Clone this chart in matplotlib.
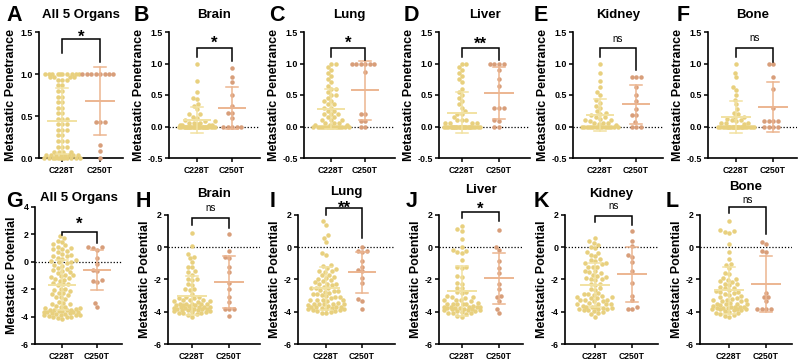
import numpy as np
import matplotlib
matplotlib.use("Agg")
import matplotlib.pyplot as plt
from matplotlib import transforms

plt.rcParams['font.family'] = ['Liberation Sans', 'DejaVu Sans']

W, H = 800, 364

groups = ["C228T", "C250T"]
organs = ["All 5 Organs", "Brain", "Lung", "Liver", "Kidney", "Bone"]
letters_top = ["A", "B", "C", "D", "E", "F"]
letters_bot = ["G", "H", "I", "J", "K", "L"]
sig_top = ["*", "*", "*", "**", "ns", "ns"]
sig_bot = ["*", "ns", "**", "*", "ns", "ns"]

# ==== Metastatic penetrance (top row) ====
pen_all_c228t = [1.0, 1.0, 1.0, 1.0, 1.0, 1.0, 1.0, 1.0, 1.0, 1.0, 0.97, 0.97, 0.97, 0.97,
                 0.93, 0.93, 0.93, 0.87, 0.87, 0.8, 0.8, 0.73, 0.73, 0.67, 0.67, 0.6, 0.6,
                 0.53, 0.53, 0.47, 0.47, 0.47, 0.4, 0.4, 0.4, 0.33, 0.33, 0.33, 0.27, 0.27,
                 0.2, 0.2, 0.2, 0.13, 0.13, 0.13, 0.07, 0.07, 0.07, 0.07,
                 0.03, 0.03, 0.03, 0.03, 0.03, 0.03, 0.03, 0.03,
                 0.0, 0.0, 0.0, 0.0, 0.0, 0.0, 0.0, 0.0, 0.0, 0.0, 0.0, 0.0]
pen_all_c250t = [1.0, 1.0, 1.0, 1.0, 1.0, 1.0, 1.0, 1.0, 0.43, 0.43, 0.43, 0.15, 0.08, 0.0]

pen_brain_c228t = [1.0, 0.72, 0.55, 0.45, 0.43, 0.35, 0.33, 0.28, 0.2, 0.2, 0.15, 0.14, 0.1,
                   0.08, 0.08, 0.06, 0.05, 0.05, 0.04, 0.03, 0.03, 0.02, 0.02,
                   0.0, 0.0, 0.0, 0.0, 0.0, 0.0, 0.0, 0.0, 0.0, 0.0, 0.0, 0.0, 0.0, 0.0,
                   0.0, 0.0, 0.0, 0.0, 0.0, 0.0, 0.0, 0.0, 0.0, 0.0, 0.0, 0.0, 0.0, 0.0]
pen_brain_c250t = [0.93, 0.78, 0.7, 0.5, 0.33, 0.22, 0.22, 0.13, 0.0, 0.0, 0.0, 0.0, 0.0]

pen_lung_c228t = [1.0, 1.0, 0.95, 0.9, 0.85, 0.8, 0.75, 0.7, 0.65, 0.6, 0.6, 0.55, 0.5, 0.5,
                  0.45, 0.4, 0.4, 0.35, 0.35, 0.3, 0.3, 0.25, 0.25, 0.2, 0.2, 0.2, 0.15, 0.15,
                  0.1, 0.1, 0.1, 0.05, 0.05, 0.05, 0.02, 0.02, 0.02,
                  0.0, 0.0, 0.0, 0.0, 0.0, 0.0, 0.0, 0.0, 0.0, 0.0, 0.0, 0.0, 0.0, 0.0, 0.0]
pen_lung_c250t = [1.0, 1.0, 1.0, 1.0, 1.0, 1.0, 0.87, 0.2, 0.2, 0.08, 0.08, 0.0, 0.0]

pen_liver_c228t = [1.0, 1.0, 0.95, 0.9, 0.85, 0.8, 0.75, 0.7, 0.6, 0.55, 0.5, 0.45, 0.4, 0.35,
                   0.3, 0.25, 0.2, 0.2, 0.15, 0.1, 0.1, 0.1, 0.05, 0.05, 0.05, 0.05,
                   0.0, 0.0, 0.0, 0.0, 0.0, 0.0, 0.0, 0.0, 0.0, 0.0, 0.0, 0.0, 0.0,
                   0.0, 0.0, 0.0, 0.0, 0.0, 0.0, 0.0, 0.0, 0.0, 0.0, 0.0, 0.0, 0.0]
pen_liver_c250t = [1.0, 1.0, 1.0, 1.0, 0.9, 0.75, 0.65, 0.3, 0.3, 0.3, 0.1, 0.08, 0.0, 0.0]

pen_kidney_c228t = [1.0, 0.85, 0.72, 0.63, 0.55, 0.5, 0.42, 0.38, 0.33, 0.3, 0.25, 0.22, 0.2,
                    0.18, 0.15, 0.15, 0.12, 0.1, 0.1, 0.08, 0.05, 0.05, 0.05, 0.04, 0.03,
                    0.0, 0.0, 0.0, 0.0, 0.0, 0.0, 0.0, 0.0, 0.0, 0.0, 0.0, 0.0, 0.0, 0.0, 0.0, 0.0]
pen_kidney_c250t = [0.78, 0.78, 0.78, 0.62, 0.5, 0.4, 0.28, 0.18, 0.18, 0.07, 0.0, 0.0, 0.0]

pen_bone_c228t = [1.0, 0.85, 0.78, 0.63, 0.58, 0.5, 0.42, 0.35, 0.28, 0.22, 0.2, 0.15, 0.15,
                  0.12, 0.1, 0.1, 0.08, 0.05, 0.05, 0.05, 0.04,
                  0.0, 0.0, 0.0, 0.0, 0.0, 0.0, 0.0, 0.0, 0.0, 0.0, 0.0, 0.0,
                  0.0, 0.0, 0.0, 0.0, 0.0, 0.0, 0.0, 0.0, 0.0, 0.0, 0.0, 0.0]
pen_bone_c250t = [1.0, 1.0, 0.78, 0.6, 0.3, 0.08, 0.08, 0.08, 0.08, 0.0, 0.0, 0.0, 0.0]

# ==== Metastatic potential (bottom row) ====
pot_all_c228t = [1.9, 1.75, 1.5, 1.45, 1.3, 1.2, 1.1, 1.0, 0.95, 0.9, 0.8, 0.7, 0.6, 0.5, 0.45,
                 0.4, 0.3, 0.2, 0.1, 0.05, 0.0, -0.05, -0.1, -0.2, -0.3, -0.35, -0.45, -0.5,
                 -0.6, -0.65, -0.75, -0.8, -0.95, -1.0, -1.05, -1.1, -1.2, -1.25, -1.3, -1.4,
                 -1.55, -1.6, -1.65, -1.7, -1.95, -2.0, -2.05, -2.1, -2.25, -2.3, -2.35, -2.4,
                 -2.55, -2.6, -2.7, -2.95, -3.0, -3.05, -3.1, -3.25, -3.3, -3.3, -3.35, -3.4,
                 -3.45, -3.5, -3.5, -3.5, -3.55, -3.6, -3.6, -3.65, -3.7, -3.7, -3.7, -3.75,
                 -3.75, -3.8, -3.8, -3.85, -3.85, -3.9, -3.9, -3.95, -4.0, -4.0, -4.05, -4.1, -4.15]
pot_all_c250t = [1.1, 1.05, 1.0, 0.85, 0.3, -0.15, -0.6, -0.7, -1.3, -1.4, -1.5, -3.0, -3.3]

pot_brain_c228t = [0.9, 0.05, -0.4, -0.6, -0.65, -0.9, -1.2, -1.25, -1.5, -1.55, -1.7, -2.0,
                   -2.0, -2.05, -2.3, -2.35, -2.6, -2.6, -2.65, -2.9, -3.1, -3.1, -3.15, -3.15,
                   -3.3, -3.3, -3.3, -3.35, -3.35, -3.4, -3.5, -3.5, -3.5, -3.55, -3.55, -3.6,
                   -3.6, -3.6, -3.65, -3.7, -3.7, -3.7, -3.7, -3.75, -3.75, -3.75, -3.8, -3.8,
                   -3.8, -3.85, -3.9, -3.9, -3.9, -3.95, -3.95, -4.0, -4.0, -4.05, -4.1, -4.1,
                   -4.15, -4.2, -4.3]
pot_brain_c250t = [0.8, -0.25, -0.6, -0.65, -1.2, -1.55, -2.2, -2.6, -3.1, -3.4, -3.8, -3.8,
                   -3.85, -4.25]

pot_lung_c228t = [1.6, 1.4, 0.75, 0.6, 0.35, -0.35, -0.5, -1.1, -1.15, -1.3, -1.35, -1.45,
                  -1.5, -1.55, -1.7, -1.75, -1.85, -1.9, -1.95, -2.05, -2.1, -2.15, -2.25, -2.3,
                  -2.3, -2.35, -2.45, -2.5, -2.5, -2.55, -2.65, -2.7, -2.7, -2.75, -2.85, -2.9,
                  -2.9, -2.95, -3.05, -3.1, -3.1, -3.15, -3.25, -3.3, -3.3, -3.3, -3.35, -3.45,
                  -3.5, -3.5, -3.5, -3.55, -3.55, -3.6, -3.65, -3.7, -3.7, -3.7, -3.7, -3.75,
                  -3.75, -3.8, -3.8, -3.85, -3.9, -3.9, -3.95, -3.95, -4.0, -4.05, -4.1]
pot_lung_c250t = [0.0, -0.22, -0.25, -0.3, -0.85, -1.2, -1.4, -1.5, -1.9, -2.2, -3.2, -3.35, -3.8]

pot_liver_c228t = [1.3, 1.15, 1.0, 0.5, 0.0, -0.2, -0.25, -0.3, -0.35, -0.8, -1.2, -1.25, -1.3,
                   -1.8, -1.85, -2.2, -2.25, -2.5, -2.55, -2.8, -2.8, -2.85, -3.05, -3.1, -3.1,
                   -3.15, -3.25, -3.3, -3.3, -3.35, -3.45, -3.5, -3.5, -3.5, -3.55, -3.55, -3.65,
                   -3.7, -3.7, -3.7, -3.7, -3.7, -3.75, -3.75, -3.75, -3.8, -3.85, -3.85, -3.9,
                   -3.9, -3.9, -3.95, -3.95, -4.0, -4.05, -4.1, -4.1, -4.15, -4.25, -4.3]
pot_liver_c250t = [1.05, 0.0, -0.2, -0.85, -1.3, -1.6, -2.3, -2.6, -3.05, -3.1, -3.35, -3.8, -4.05]

pot_kidney_c228t = [0.6, 0.4, 0.25, 0.15, 0.0, -0.05, -0.3, -0.35, -0.5, -0.55, -0.75, -0.8,
                    -0.85, -1.0, -1.0, -1.05, -1.2, -1.2, -1.25, -1.45, -1.5, -1.55, -1.6, -1.75,
                    -1.8, -1.85, -1.9, -2.0, -2.0, -2.05, -2.25, -2.3, -2.35, -2.55, -2.6, -2.65,
                    -2.85, -2.9, -2.9, -2.95, -3.05, -3.1, -3.1, -3.15, -3.15, -3.25, -3.3, -3.3,
                    -3.35, -3.35, -3.45, -3.5, -3.5, -3.55, -3.55, -3.65, -3.7, -3.7, -3.7, -3.75,
                    -3.75, -3.8, -3.8, -3.85, -3.9, -3.9, -3.95, -4.0, -4.1, -4.15, -4.3]
pot_kidney_c250t = [1.0, 0.4, 0.1, -0.5, -0.6, -0.9, -1.5, -2.2, -3.0, -3.3, -3.7, -3.8, -3.85]

pot_bone_c228t = [1.6, 1.1, 1.0, 0.95, 0.9, 0.2, -0.3, -0.7, -1.05, -1.1, -1.3, -1.6, -1.65,
                  -1.9, -1.95, -2.05, -2.1, -2.15, -2.25, -2.3, -2.35, -2.45, -2.5, -2.55, -2.65,
                  -2.7, -2.75, -2.8, -2.85, -2.9, -2.95, -3.05, -3.1, -3.15, -3.2, -3.25, -3.3,
                  -3.3, -3.35, -3.35, -3.45, -3.5, -3.5, -3.55, -3.55, -3.6, -3.65, -3.7, -3.7,
                  -3.7, -3.7, -3.75, -3.75, -3.75, -3.8, -3.8, -3.85, -3.85, -3.9, -3.9, -3.95,
                  -4.0, -4.05, -4.1, -4.15, -4.2, -4.25, -4.3]
pot_bone_c250t = [0.35, 0.2, -0.25, -0.3, -2.85, -3.1, -3.1, -3.35, -3.8, -3.8, -3.8, -3.85]

top_data = [(pen_all_c228t, pen_all_c250t), (pen_brain_c228t, pen_brain_c250t),
            (pen_lung_c228t, pen_lung_c250t), (pen_liver_c228t, pen_liver_c250t),
            (pen_kidney_c228t, pen_kidney_c250t), (pen_bone_c228t, pen_bone_c250t)]
bot_data = [(pot_all_c228t, pot_all_c250t), (pot_brain_c228t, pot_brain_c250t),
            (pot_lung_c228t, pot_lung_c250t), (pot_liver_c228t, pot_liver_c250t),
            (pot_kidney_c228t, pot_kidney_c250t), (pot_bone_c228t, pot_bone_c250t)]

# ==== layout (pixels): left, right, cat0, cat1 ====
top_x = [(39, 123, 62, 100), (169, 260, 197, 232), (304, 395, 331, 365),
         (439, 530, 462, 499), (573, 663, 600, 636), (708, 797, 736, 773)]
bot_x = [(35, 122, 62, 97), (168, 260, 192, 229), (298, 395, 326, 362),
         (439, 523, 462, 499), (565, 658, 595, 632), (700, 792, 729, 766)]
top_letter_x = [6, 134, 269, 404, 534, 677]
bot_letter_x = [6, 136, 270, 406, 534, 666]
bot_title_base = [201, 197, 195, 193, 197, 190]
# bracket: top, left leg end, right leg end, text centre (data units)
top_br = [(1.42, 1.25, 1.14, 1.50), (1.25, 1.10, 1.04, 1.40), (1.25, 1.10, 1.06, 1.40),
          (1.25, 1.10, 1.05, 1.39), (1.25, 1.10, 0.90, 1.39), (1.25, 1.10, 1.03, 1.40)]
bot_br = [(2.2, 1.95, 1.35, 3.1), (1.84, 1.4, 1.2, 2.4), (2.45, 2.0, 0.6, 2.72),
          (2.2, 1.8, 1.6, 2.65), (1.94, 1.58, 1.37, 2.55), (2.48, 2.1, 0.85, 2.9)]

DOT = 4.5  # px
dot_colors = ["#E8D07E", "#D89E7A"]
line_colors = ["#F2E2A2", "#ECB590"]

fig = plt.figure(figsize=(8, 3.64), dpi=100)


def swarm(vals, ppx, ppy, d, maxw):
    vals = np.asarray(vals, float)
    order = np.argsort(vals, kind="stable")
    cands = [0.0]
    for s in np.arange(d / 4, maxw + 1e-9, d / 4):
        cands += [-s, s]
    cands = np.array(cands)
    px, py = [], []
    out = np.zeros(len(vals))
    for i in order:
        y = vals[i] * ppy
        ax_ = np.array(px)
        ay_ = np.array(py)
        if len(py):
            near = np.abs(ay_ - y) < d
            nx, ny = ax_[near], ay_[near]
        else:
            nx, ny = ax_, ay_
        chosen = None
        for c in cands:
            if nx.size == 0 or np.all((nx - c) ** 2 + (ny - y) ** 2 >= 0.97 * d * d):
                chosen = c
                break
        if chosen is None:
            dmin = [np.min((nx - c) ** 2 + (ny - y) ** 2) for c in cands]
            chosen = cands[int(np.argmax(dmin))]
        px.append(chosen)
        py.append(y)
        out[i] = chosen / ppx
    return out


def draw_panel(data, xs, top, bottom, ylim, yticks, yticklabels, ylabel, br, sig):
    l, r, c0, c1 = xs
    ax = fig.add_axes([l / W, 1 - bottom / H, (r - l) / W, (bottom - top) / H])
    sp = c1 - c0
    ax.set_xlim(-(c0 - l) / sp, (r - c0) / sp)
    ax.set_ylim(*ylim)
    ppy = (bottom - top) / (ylim[1] - ylim[0])
    for s in ["top", "right"]:
        ax.spines[s].set_visible(False)
    for s in ["left", "bottom"]:
        ax.spines[s].set_linewidth(1.2)
    ax.set_xticks([0, 1])
    ax.set_xticklabels(groups, fontsize=6.2, fontweight="bold")
    ax.set_yticks(yticks)
    ax.set_yticklabels(yticklabels, fontsize=6.4, fontweight="bold")
    ax.tick_params(axis="both", length=3, width=1.1, pad=1.5)
    ax.tick_params(axis="x", pad=3)
    ax.set_ylabel(ylabel, fontsize=9, fontweight="bold", labelpad=2)
    if ylim[0] < 0:
        ax.axhline(0, color="black", lw=0.9, ls=(0, (1, 1.5)), zorder=1)

    for gi, vals in enumerate(data):
        vals = np.asarray(vals, float)
        off = swarm(vals, sp, ppy, DOT, 19)
        ax.scatter(gi + off, vals, s=(DOT * 0.72) ** 2, c=dot_colors[gi], lw=0,
                   zorder=3, clip_on=False)
        m = vals.mean()
        sd = vals.std(ddof=1)
        lc = line_colors[gi]
        ax.plot([gi - 0.37, gi + 0.37], [m, m], color=lc, lw=1.4, zorder=4, clip_on=False)
        ax.plot([gi, gi], [m - sd, m + sd], color=lc, lw=1.1, zorder=4, clip_on=False)
        for yy in (m - sd, m + sd):
            ax.plot([gi - 0.17, gi + 0.17], [yy, yy], color=lc, lw=1.1, zorder=4,
                    clip_on=False)

    btop, bl, brr, ty = br
    ax.plot([0, 0, 1, 1], [bl, btop, btop, brr], color="black", lw=1.1,
            clip_on=False, solid_joinstyle="miter", zorder=5)
    if sig == "ns":
        fs = 7
        tr = transforms.offset_copy(ax.transData, fig=fig, y=-0.27 * fs, units="points")
        ax.text(0.5, ty, sig, ha="center", va="baseline", fontsize=fs, transform=tr,
                clip_on=False)
    else:
        fs = 12
        tr = transforms.offset_copy(ax.transData, fig=fig, y=-0.58 * fs, units="points")
        ax.text(0.5, ty, sig, ha="center", va="baseline", fontsize=fs,
                fontweight="bold", transform=tr, clip_on=False)
    return ax


for i in range(6):
    if i == 0:
        ylim, yt, ytl = (0, 1.5), [0, 0.5, 1.0, 1.5], ["0.0", "0.5", "1.0", "1.5"]
    else:
        ylim, yt, ytl = (-0.5, 1.5), [-0.5, 0, 0.5, 1.0, 1.5], ["-0.5", "0.0", "0.5", "1.0", "1.5"]
    draw_panel(top_data[i], top_x[i], 32, 158, ylim, yt, ytl, "Metastatic Penetrance",
               top_br[i], sig_top[i])
    l, r = top_x[i][0], top_x[i][1]
    fig.text((l + r) / 2 / W, 1 - 18 / H, organs[i], ha="center", va="baseline",
             fontsize=9.5, fontweight="bold")
    fig.text(top_letter_x[i] / W, 1 - 21 / H, letters_top[i], ha="left", va="baseline",
             fontsize=15.5, fontweight="bold")

for i in range(6):
    if i == 0:
        top = 207
        ylim, yt = (-6, 4), [-6, -4, -2, 0, 2, 4]
    else:
        top = 215
        ylim, yt = (-6, 2), [-6, -4, -2, 0, 2]
    draw_panel(bot_data[i], bot_x[i], top, 344, ylim, yt, [str(v) for v in yt],
               "Metastatic Potential", bot_br[i], sig_bot[i])
    l, r = bot_x[i][0], bot_x[i][1]
    fig.text((l + r) / 2 / W, 1 - bot_title_base[i] / H, organs[i], ha="center",
             va="baseline", fontsize=9.5, fontweight="bold")
    fig.text(bot_letter_x[i] / W, 1 - 207 / H, letters_bot[i], ha="left", va="baseline",
             fontsize=15.5, fontweight="bold")

fig.savefig("out.png", dpi=100)
